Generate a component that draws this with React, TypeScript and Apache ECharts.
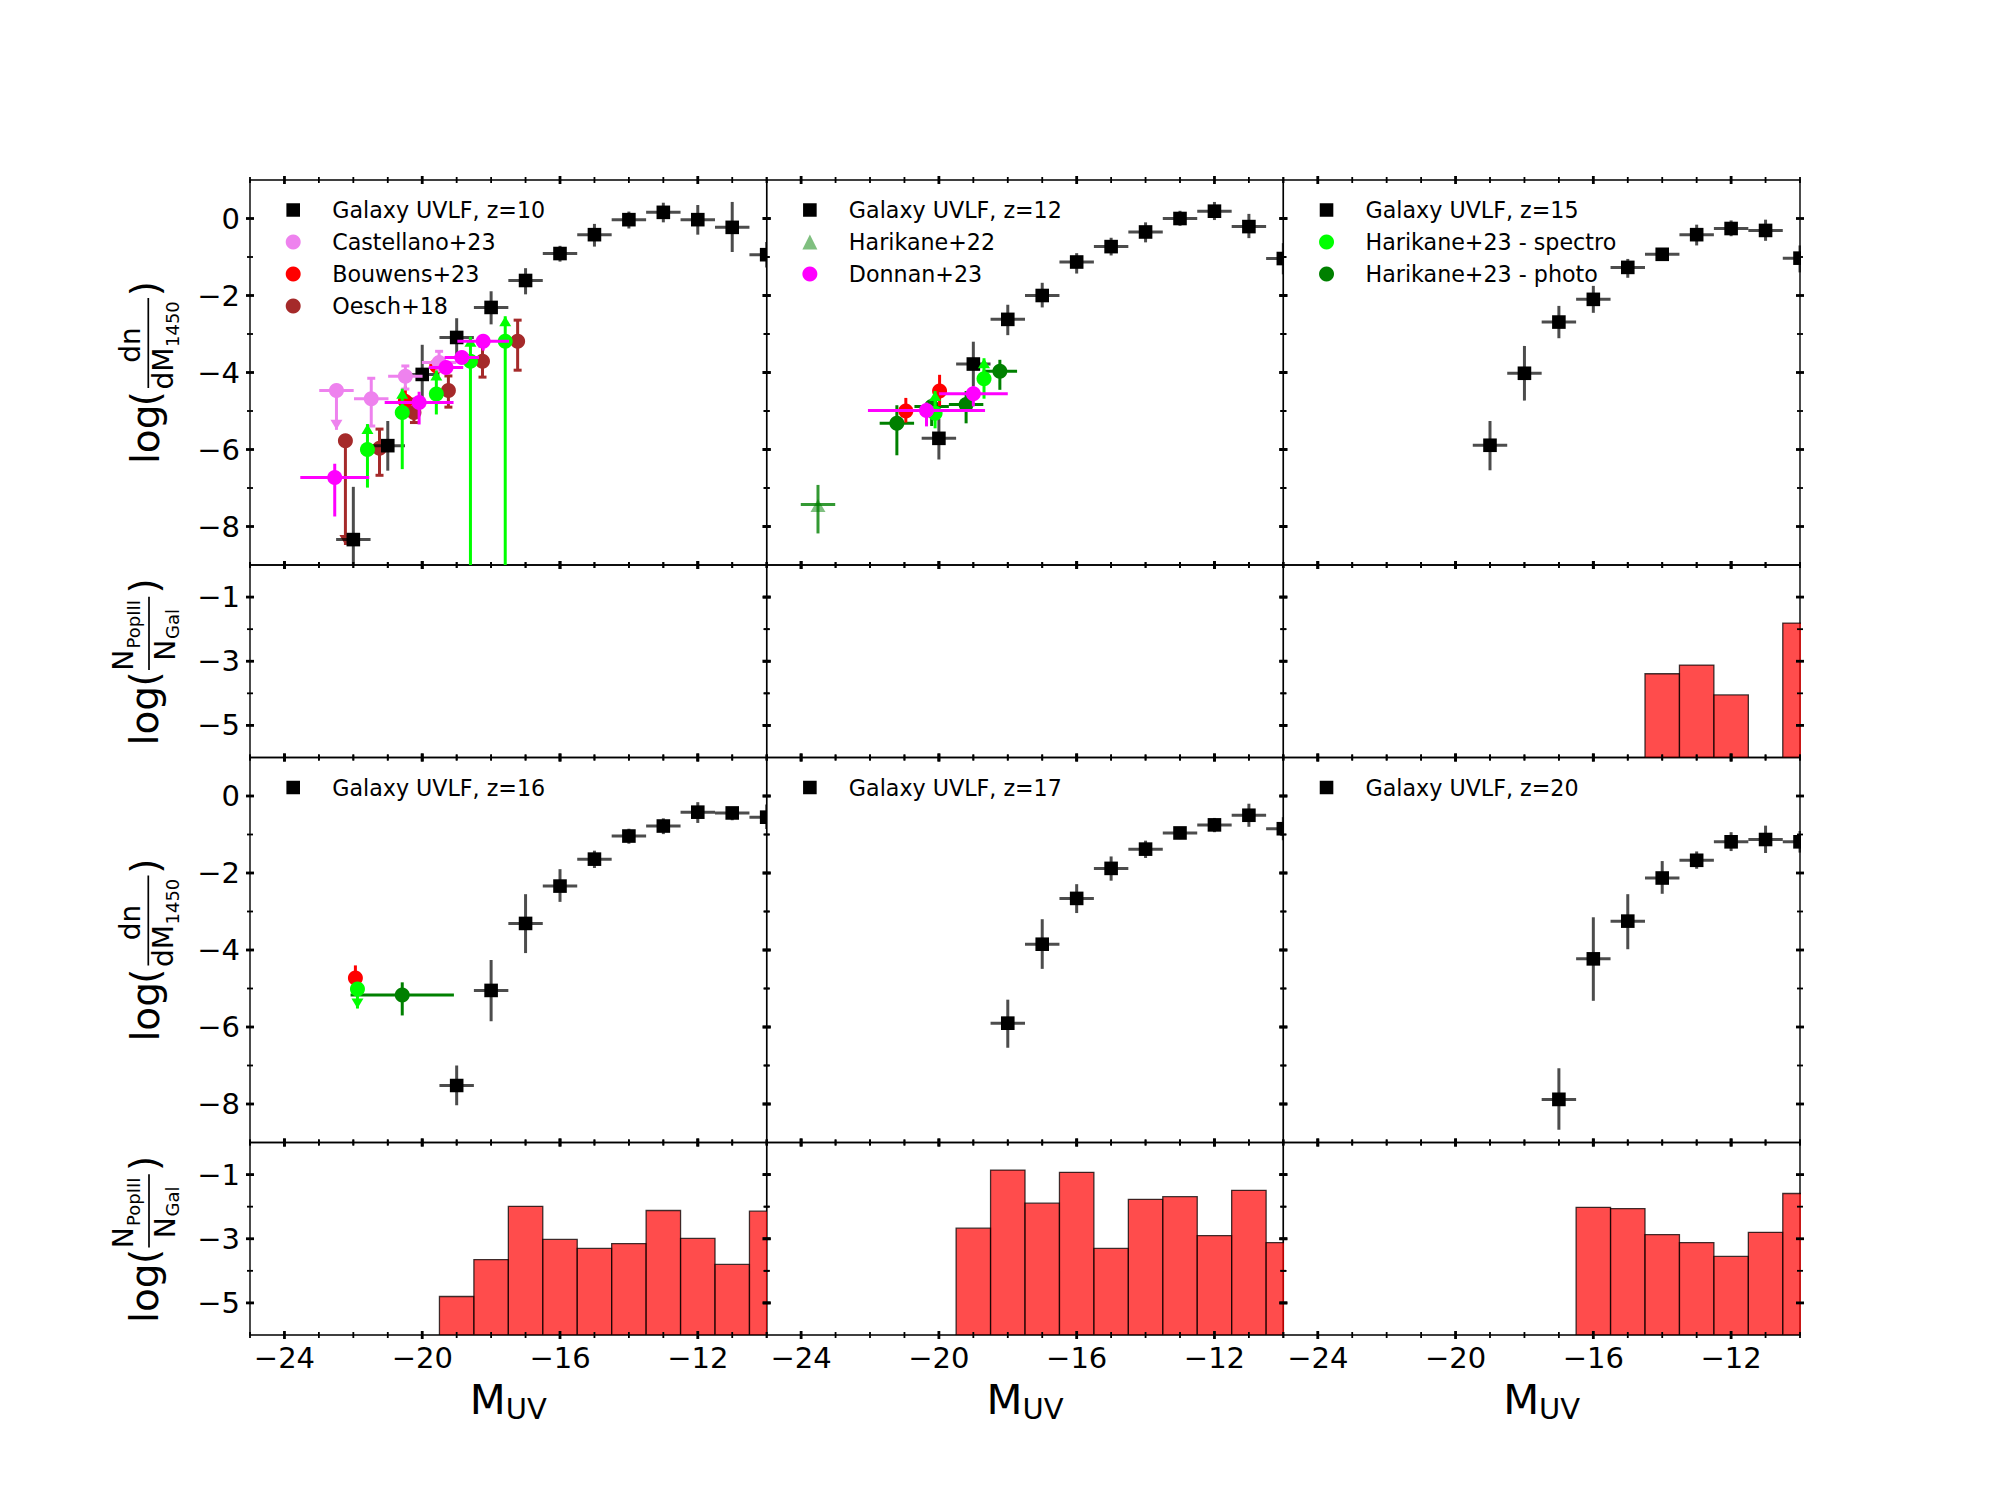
import React, { useEffect, useRef } from 'react';
import * as echarts from 'echarts';

// [M_UV, log phi, upper end, lower end] - bins are one magnitude wide
const uvlfZ10 = [
  [-22, -8.34, -6.97, -9.7], [-21, -5.9, -5.26, -6.55], [-20, -4.05, -3.28, -4.82], [-19, -3.09, -2.59, -3.61],
  [-18, -2.31, -1.89, -2.75], [-17, -1.61, -1.29, -1.97], [-16, -0.91, -0.71, -1.12], [-15, -0.42, -0.14, -0.73],
  [-14, -0.03, 0.18, -0.26], [-13, 0.16, 0.41, -0.1], [-12, -0.03, 0.35, -0.42], [-11, -0.23, 0.43, -0.87],
  [-10, -0.94, -0.61, -1.27],
];
const uvlfZ12 = [
  [-20, -5.71, -5.2, -6.26], [-19, -3.78, -3.2, -4.35], [-18, -2.62, -2.24, -3.03], [-17, -2.0, -1.67, -2.31],
  [-16, -1.13, -0.9, -1.43], [-15, -0.73, -0.5, -0.96], [-14, -0.35, -0.1, -0.62], [-13, 0, 0.2, -0.19],
  [-12, 0.19, 0.43, -0.04], [-11, -0.21, 0.12, -0.51], [-10, -1.04, -0.64, -1.45],
];
const uvlfZ15 = [
  [-19, -5.89, -5.26, -6.54], [-18, -4.02, -3.31, -4.73], [-17, -2.69, -2.27, -3.11], [-16, -2.1, -1.75, -2.45],
  [-15, -1.27, -1.05, -1.54], [-14, -0.93, -0.77, -1.1], [-13, -0.42, -0.16, -0.7], [-12, -0.26, -0.05, -0.46],
  [-11, -0.31, -0.03, -0.58], [-10, -1.03, -0.7, -1.4],
];
const uvlfZ16 = [
  [-19, -7.52, -7.0, -8.03], [-18, -5.05, -4.26, -5.85], [-17, -3.31, -2.55, -4.08], [-16, -2.34, -1.9, -2.75],
  [-15, -1.64, -1.42, -1.87], [-14, -1.04, -0.85, -1.24], [-13, -0.78, -0.58, -0.99], [-12, -0.42, -0.16, -0.7],
  [-11, -0.44, -0.29, -0.63], [-10, -0.55, -0.22, -0.86],
];
const uvlfZ17 = [
  [-18, -5.9, -5.29, -6.54], [-17, -3.85, -3.2, -4.49], [-16, -2.66, -2.29, -3.04], [-15, -1.88, -1.57, -2.2],
  [-14, -1.38, -1.16, -1.61], [-13, -0.96, -0.81, -1.12], [-12, -0.75, -0.57, -0.94], [-11, -0.5, -0.2, -0.8],
  [-10, -0.85, -0.55, -1.15],
];
const uvlfZ20 = [
  [-17, -7.88, -7.07, -8.67], [-16, -4.23, -3.15, -5.32], [-15, -3.25, -2.55, -3.98], [-14, -2.13, -1.69, -2.54],
  [-13, -1.67, -1.44, -1.89], [-12, -1.19, -0.94, -1.43], [-11, -1.13, -0.77, -1.48], [-10, -1.19, -0.91, -1.47],
];

// observations: [M_UV, log phi, x half width, upper end, lower end, limit arrow (1 up, -1 down, 0 none)]
const castellanoZ10 = [
  [-22.49, -4.47, 0.5, -4.47, -5.49, -1], [-21.48, -4.68, 0.5, -4.15, -5.39, 0],
  [-20.49, -4.1, 0.5, -3.83, -4.43, 0], [-19.51, -3.74, 0.5, -3.45, -3.96, 0],
];
const bouwensZ10 = [[-20.49, -4.75, 0, -4.36, -5.11, 0], [-19.58, -3.83, 0, -3.6, -4.02, 0]];
const bouwensZ12 = [[-20.96, -5.0, 0, -4.66, -5.3, 0], [-19.98, -4.48, 0, -4.06, -4.87, 0]];
const bouwensZ16 = [[-21.94, -4.73, 0, -4.4, -5.03, 0]];
const oeschZ10 = [
  [-22.23, -5.77, 0, -5.77, -8.48, -1], [-21.24, -5.97, 0, -5.47, -6.67, 0], [-20.24, -5.04, 0, -4.69, -5.3, 0],
  [-19.24, -4.47, 0, -4.09, -4.9, 0], [-18.25, -3.71, 0, -3.31, -4.12, 0], [-17.23, -3.19, 0, -2.64, -3.94, 0],
];
const spectroZ10 = [
  [-21.59, -6.0, 0, -5.34, -6.99, 1], [-20.58, -5.04, 0, -4.42, -6.51, 1], [-19.59, -4.56, 0, -3.95, -5.09, 1],
  [-18.6, -3.71, 0, -3.07, -10, 1], [-17.59, -3.19, 0, -2.54, -10, 1],
];
const spectroZ12 = [[-20.11, -5.06, 0, -4.48, -5.45, 1], [-18.69, -4.16, 0, -3.63, -4.68, 1]];
const spectroZ16 = [[-21.88, -5.01, 0, -4.83, -5.52, -1]];
const photoZ12 = [
  [-21.22, -5.32, 0.5, -4.85, -6.15, 0], [-20.21, -4.88, 0.5, -4.68, -5.39, 0],
  [-19.21, -4.83, 0.5, -4.48, -5.32, 0], [-18.23, -3.97, 0.5, -3.67, -4.45, 0],
];
const photoZ16 = [[-20.58, -5.17, 1.5, -4.84, -5.7, 0]];
const donnanZ10 = [
  [-22.54, -6.73, 1, -6.37, -7.74, 0], [-20.09, -4.78, 1, -4.5, -5.35, 0], [-19.31, -3.87, 0.5, -3.7, -4.04, 0],
  [-18.85, -3.61, 0.5, -3.44, -3.78, 0], [-18.23, -3.19, 0.75, -3.0, -3.43, 0],
];
const donnanZ12 = [[-20.36, -4.99, 1.7, -4.78, -5.4, 0], [-19.0, -4.55, 1, -4.35, -4.88, 0]];
const harikane22Z12 = [[-23.51, -7.43, 0.5, -6.92, -8.18, 0]];

// [M_UV, log(N_PopIII / N_Gal)]
const ratioZ15 = [[-14, -3.39], [-13, -3.12], [-12, -4.05], [-10, -1.81]];
const ratioZ16 = [
  [-19, -4.8], [-18, -3.65], [-17, -1.99], [-16, -3.02], [-15, -3.3], [-14, -3.15], [-13, -2.12], [-12, -2.99],
  [-11, -3.8], [-10, -2.14],
];
const ratioZ17 = [
  [-19, -2.67], [-18, -0.86], [-17, -1.89], [-16, -0.93], [-15, -3.3], [-14, -1.77], [-13, -1.69], [-12, -2.9],
  [-11, -1.49], [-10, -3.12],
];
const ratioZ20 = [[-16, -2.02], [-15, -2.06], [-14, -2.87], [-13, -3.12], [-12, -3.55], [-11, -2.8], [-10, -1.59]];

const xMajor = [-24, -20, -16, -12];
const xMinor = [-25, -23, -22, -21, -19, -18, -17, -15, -14, -13, -11, -10];
const mainMajor = [0, -2, -4, -6, -8];
const mainMinor = [-1, -3, -5, -7];
const ratioMajor = [-1, -3, -5];
const ratioMinor = [-2, -4];

const FONT = 'DejaVu Sans';
const W = 516.67;
const MAIN_H = 385;
const RATIO_H = 192.5;
const colLeft = [250, 766.67, 1283.33];
const rowTop = [180, 757.5];

const GALAXY = { name: '', marker: 'square', fill: '#000', line: 'rgba(0,0,0,0.7)' };
const CASTELLANO = { name: 'Castellano+23', marker: 'circle', fill: '#ee82ee', line: '#ee82ee', caps: true };
const BOUWENS = { name: 'Bouwens+23', marker: 'circle', fill: '#ff0000', line: '#ff0000' };
const OESCH = { name: 'Oesch+18', marker: 'circle', fill: '#a52a2a', line: '#a52a2a', caps: true };
const SPECTRO = { name: 'Harikane+23 - spectro', marker: 'circle', fill: '#00ff00', line: '#00ff00' };
const PHOTO = { name: 'Harikane+23 - photo', marker: 'circle', fill: '#008000', line: '#008000' };
const DONNAN = { name: 'Donnan+23', marker: 'circle', fill: '#ff00ff', line: '#ff00ff' };
const HARIKANE22 = { name: 'Harikane+22', marker: 'triangle', fill: 'rgba(0,128,0,0.5)', line: 'rgba(0,128,0,0.8)' };

const withBins = (rows: number[][]) => rows.map(r => [r[0], r[1], 0.5, r[2], r[3], 0]);

const panels = [
  {
    z: 10, uvlf: uvlfZ10, ratio: [] as number[][],
    legend: [CASTELLANO, BOUWENS, OESCH],
    under: [[BOUWENS, bouwensZ10], [OESCH, oeschZ10]],
    over: [[CASTELLANO, castellanoZ10], [SPECTRO, spectroZ10], [DONNAN, donnanZ10]],
  },
  {
    z: 12, uvlf: uvlfZ12, ratio: [] as number[][],
    legend: [HARIKANE22, DONNAN],
    under: [],
    over: [[HARIKANE22, harikane22Z12], [PHOTO, photoZ12], [BOUWENS, bouwensZ12], [SPECTRO, spectroZ12], [DONNAN, donnanZ12]],
  },
  { z: 15, uvlf: uvlfZ15, ratio: ratioZ15, legend: [SPECTRO, PHOTO], under: [], over: [] },
  {
    z: 16, uvlf: uvlfZ16, ratio: ratioZ16, legend: [], under: [],
    over: [[BOUWENS, bouwensZ16], [PHOTO, photoZ16], [SPECTRO, spectroZ16]],
  },
  { z: 17, uvlf: uvlfZ17, ratio: ratioZ17, legend: [], under: [], over: [] },
  { z: 20, uvlf: uvlfZ20, ratio: ratioZ20, legend: [], under: [], over: [] },
];

const line = (x1: number, y1: number, x2: number, y2: number, stroke: string, lineWidth: number) => ({
  type: 'line',
  shape: { x1, y1, x2, y2 },
  style: { stroke, lineWidth },
});

function pointRenderer(spec: any) {
  return (_params: any, api: any) => {
    const x = api.value(0);
    const y = api.value(1);
    const xerr = api.value(2);
    const top = api.value(3);
    const bottom = api.value(4);
    const arrow = api.value(5);
    const [cx, cy] = api.coord([x, y]);
    const yTop = api.coord([x, top])[1];
    const yBottom = api.coord([x, bottom])[1];
    const children: any[] = [];
    if (xerr > 0) {
      children.push(line(api.coord([x - xerr, y])[0], cy, api.coord([x + xerr, y])[0], cy, spec.line, 3));
    }
    children.push(line(cx, yTop, cx, yBottom, spec.line, 3));
    if (spec.caps) {
      if (arrow !== 1 && top !== y) children.push(line(cx - 4, yTop, cx + 4, yTop, spec.line, 3));
      if (arrow !== -1) children.push(line(cx - 4, yBottom, cx + 4, yBottom, spec.line, 3));
    }
    if (arrow === 1) {
      children.push({ type: 'polygon', shape: { points: [[cx, yTop], [cx - 6, yTop + 10], [cx + 6, yTop + 10]] }, style: { fill: spec.line } });
    }
    if (arrow === -1) {
      children.push({ type: 'polygon', shape: { points: [[cx, yBottom], [cx - 6, yBottom - 10], [cx + 6, yBottom - 10]] }, style: { fill: spec.line } });
    }
    if (spec.marker === 'square') {
      children.push({ type: 'rect', shape: { x: cx - 6.8, y: cy - 6.8, width: 13.6, height: 13.6 }, style: { fill: spec.fill } });
    } else if (spec.marker === 'triangle') {
      children.push({ type: 'polygon', shape: { points: [[cx, cy - 5.5], [cx - 7.5, cy + 7.5], [cx + 7.5, cy + 7.5]] }, style: { fill: spec.fill } });
    } else {
      children.push({ type: 'circle', shape: { cx, cy, r: 7.5 }, style: { fill: spec.fill } });
    }
    return { type: 'group', children };
  };
}

function barRenderer(_params: any, api: any) {
  const x = api.value(0);
  const [x0, y0] = api.coord([x - 0.5, api.value(1)]);
  const [x1, y1] = api.coord([x + 0.5, -6]);
  return {
    type: 'rect',
    shape: { x: x0, y: y0, width: x1 - x0, height: y1 - y0 },
    style: { fill: 'rgba(255,0,0,0.7)', stroke: 'rgba(0,0,0,0.75)', lineWidth: 1.3 },
  };
}

// crossing ticks on all four sides of a grid
function tickRenderer(yMajor: number[], yMinor: number[], yMin: number, yMax: number) {
  return (_params: any, api: any) => {
    const children: any[] = [];
    const addX = (v: number, half: number, width: number) => {
      const px = api.coord([v, yMin])[0];
      [yMin, yMax].forEach(edge => {
        const py = api.coord([v, edge])[1];
        children.push(line(px, py - half, px, py + half, '#000', width));
      });
    };
    const addY = (v: number, half: number, width: number) => {
      const py = api.coord([-25, v])[1];
      [-25, -10].forEach(edge => {
        const px = api.coord([edge, v])[0];
        children.push(line(px - half, py, px + half, py, '#000', width));
      });
    };
    xMajor.forEach(v => addX(v, 4, 2.8));
    xMinor.forEach(v => addX(v, 3, 1.8));
    yMajor.forEach(v => addY(v, 4, 2.8));
    yMinor.forEach(v => addY(v, 3, 1.8));
    return { type: 'group', children };
  };
}

const txt = (text: string, x: number, y: number, fontSize: number, align = 'left') => ({
  type: 'text',
  x,
  y,
  style: { text, fontSize, fontFamily: FONT, fill: '#000', align, verticalAlign: 'middle' },
});

const bar = (x1: number, x2: number, y: number) => ({
  type: 'line',
  shape: { x1, y1: y, x2, y2: y },
  style: { stroke: '#000', lineWidth: 1.7 },
});

// rotated log(a/b) labels; local x runs up the page, local y to the right
function mainLabel(offsetY: number) {
  return {
    type: 'group',
    x: 145,
    y: 464 + offsetY,
    rotation: Math.PI / 2,
    children: [
      txt('log', 0, 0, 39),
      txt('(', 57.7, 0, 39),
      txt(')', 167.7, 0, 39),
      txt('dn', 119, -14.4, 28, 'center'),
      txt('dM', 74.5, 18, 28),
      txt('1450', 117, 27, 18),
      bar(76, 166, 3.3),
    ],
  };
}

function ratioLabel(offsetY: number) {
  return {
    type: 'group',
    x: 144.3,
    y: 745.4 + offsetY,
    rotation: Math.PI / 2,
    children: [
      txt('log', 0, 0, 39),
      txt('(', 59, 0, 39),
      txt(')', 152, 0, 39),
      txt('N', 74.7, -21, 28),
      txt('PopIII', 96.9, -10.8, 18),
      txt('N', 84.7, 20.7, 28),
      txt('Gal', 106.4, 28.2, 18),
      bar(75.4, 148.7, 4.7),
    ],
  };
}

function buildOption() {
  const grid: any[] = [];
  const xAxis: any[] = [];
  const yAxis: any[] = [];
  const series: any[] = [];
  const legend: any[] = [];

  panels.forEach((panel, i) => {
    const col = i % 3;
    const row = i < 3 ? 0 : 1;
    const left = colLeft[col];
    const top = rowTop[row];
    const mainIdx = grid.length;
    const ratioIdx = mainIdx + 1;
    const frame = { show: true, borderColor: '#000', borderWidth: 1.4, backgroundColor: 'transparent' };
    grid.push({ ...frame, left, top, width: W, height: MAIN_H });
    grid.push({ ...frame, left, top: top + MAIN_H, width: W, height: RATIO_H });

    const baseX = { type: 'value', min: -25, max: -10, interval: 1, axisLine: { show: false }, axisTick: { show: false }, splitLine: { show: false } };
    xAxis.push({ ...baseX, gridIndex: mainIdx, axisLabel: { show: false } });
    xAxis.push({
      ...baseX,
      gridIndex: ratioIdx,
      axisLabel: {
        show: row === 1,
        customValues: xMajor,
        formatter: (v: number) => String(v).replace('-', '\u2212'),
        fontSize: 29,
        fontFamily: FONT,
        color: '#000',
        margin: 8,
      },
      name: row === 1 ? '{m|M}{s|UV}' : '',
      nameLocation: 'middle',
      nameGap: 41,
      nameTextStyle: {
        rich: {
          m: { fontSize: 41.7, fontFamily: FONT, color: '#000' },
          s: { fontSize: 29, fontFamily: FONT, color: '#000', padding: [18, 0, 0, 0] },
        },
      },
    });

    const baseY = { type: 'value', interval: 1, axisLine: { show: false }, axisTick: { show: false }, splitLine: { show: false } };
    const yLabel = (values: number[]) => ({
      show: col === 0,
      customValues: values,
      formatter: (v: number) => String(v).replace('-', '\u2212'),
      fontSize: 29,
      fontFamily: FONT,
      color: '#000',
      margin: 10,
    });
    yAxis.push({ ...baseY, gridIndex: mainIdx, min: -9, max: 1, axisLabel: yLabel(mainMajor) });
    yAxis.push({ ...baseY, gridIndex: ratioIdx, min: -6, max: 0, axisLabel: yLabel(ratioMajor) });

    const galaxyName = `Galaxy UVLF, z=${panel.z}`;
    const addPoints = (name: string, spec: any, data: number[][]) => {
      series.push({
        type: 'custom',
        name,
        xAxisIndex: mainIdx,
        yAxisIndex: mainIdx,
        clip: true,
        silent: true,
        data,
        renderItem: pointRenderer(spec),
      });
    };
    (panel.under as any[]).forEach(([spec, data]) => addPoints(spec.name, spec, data));
    addPoints(galaxyName, GALAXY, withBins(panel.uvlf));
    (panel.over as any[]).forEach(([spec, data]) => addPoints(spec.name, spec, data));

    series.push({
      type: 'custom',
      name: `ratio z=${panel.z}`,
      xAxisIndex: ratioIdx,
      yAxisIndex: ratioIdx,
      clip: true,
      silent: true,
      data: panel.ratio,
      renderItem: barRenderer,
    });
    series.push({
      type: 'custom',
      xAxisIndex: mainIdx,
      yAxisIndex: mainIdx,
      silent: true,
      z: 5,
      data: [[-25, -9]],
      renderItem: tickRenderer(mainMajor, mainMinor, -9, 1),
    });
    series.push({
      type: 'custom',
      xAxisIndex: ratioIdx,
      yAxisIndex: ratioIdx,
      silent: true,
      z: 5,
      data: [[-25, -6]],
      renderItem: tickRenderer(ratioMajor, ratioMinor, -6, 0),
    });

    const entry = (name: string, marker: string, color: string) => ({
      name,
      icon: marker === 'square' ? 'rect' : marker,
      // the white edge trims the 15px legend box down to the smaller square marker
      itemStyle: marker === 'square' ? { color, borderColor: '#fff', borderWidth: 1.4 } : { color },
    });
    legend.push({
      show: true,
      orient: 'vertical',
      padding: 0,
      left: left + 35,
      top: top + 19,
      itemWidth: 15,
      itemHeight: 15,
      itemGap: 10,
      selectedMode: false,
      textStyle: { fontFamily: FONT, fontSize: 22.2, color: '#000', padding: [0, 0, 0, 26.5], lineHeight: 21 },
      data: [entry(galaxyName, 'square', '#000'), ...(panel.legend as any[]).map(s => entry(s.name, s.marker, s.fill))],
    });
  });

  return {
    animation: false,
    backgroundColor: '#fff',
    grid,
    xAxis,
    yAxis,
    legend,
    series,
    graphic: [mainLabel(0), ratioLabel(0), mainLabel(577.5), ratioLabel(577.5)],
  };
}

const App: React.FC = () => {
  const chartRef = useRef<HTMLDivElement>(null);

  useEffect(() => {
    if (!chartRef.current) return;
    const chart = echarts.init(chartRef.current, undefined, { renderer: 'svg' });
    chart.setOption(buildOption());
    return () => {
      chart.dispose();
    };
  }, []);

  return <div ref={chartRef} style={{ position: 'absolute', left: 0, top: 0, width: 2000, height: 1500 }} />;
};

export default App;
